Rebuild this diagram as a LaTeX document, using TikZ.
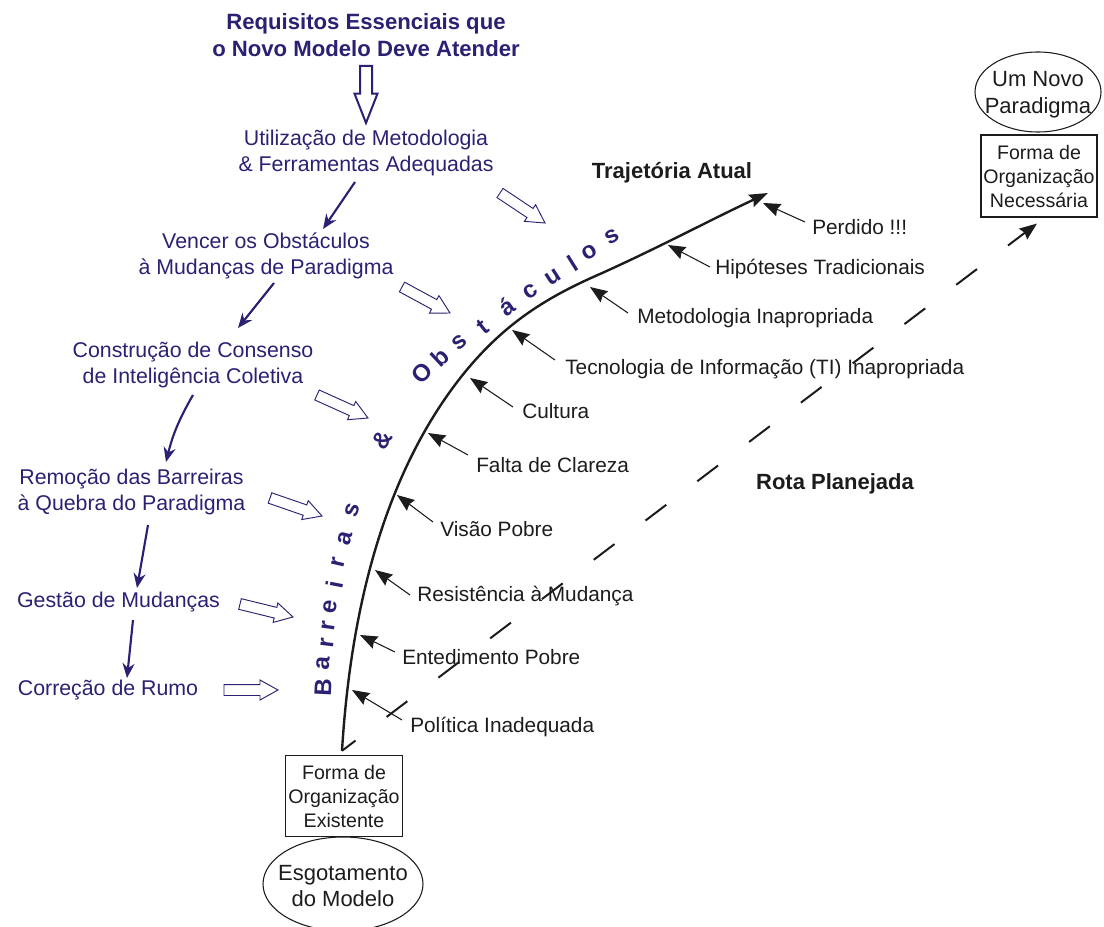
\documentclass[tikz,border=0pt]{standalone}
\usepackage{fontspec}
\setmainfont{Liberation Sans}
\usetikzlibrary{arrows.meta,calc,shapes.geometric}
\definecolor{navy}{RGB}{43,33,115}
\definecolor{ink}{RGB}{28,28,28}

% Outlined block arrow: [style]{tail}{tip}{shaft half width}{head half width}{head length}
\newcommand{\hollowarrow}[6][]{%
  \coordinate (ha-neck) at ($(#3)!#6!(#2)$);
  \draw[hollow,#1] ($(#2)!#4!90:(#3)$) -- ($(ha-neck)!#4!-90:(#2)$)
    -- ($(ha-neck)!#5!-90:(#2)$) -- (#3) -- ($(ha-neck)!#5!90:(#2)$)
    -- ($(ha-neck)!#4!90:(#2)$) -- ($(#2)!#4!-90:(#3)$) -- cycle;}

\begin{document}
\begin{tikzpicture}[x=0.75pt, y=-0.75pt,
  steptxt/.style={font=\fontsize{16}{19.5}\selectfont, text=navy, align=center, inner sep=0pt},
  headtxt/.style={font=\fontsize{16.6}{20.3}\selectfont\bfseries, text=navy, align=center, inner sep=0pt},
  pathtxt/.style={font=\fontsize{16.5}{20}\selectfont\bfseries, text=ink, inner sep=0pt},
  obslbl/.style={font=\fontsize{15.6}{18}\selectfont, text=ink, anchor=west, inner sep=0pt},
  wordletter/.style={font=\fontsize{18}{18}\selectfont\bfseries, text=navy, inner sep=0pt},
  orgbox/.style={draw=ink, line width=0.8pt, inner sep=0pt, align=center,
    font=\fontsize{14.7}{18}\selectfont, text=ink, minimum width=88pt, minimum height=61pt},
  orgoval/.style={draw=ink, line width=0.8pt, ellipse, inner sep=0pt},
  ovaltxt/.style={font=\fontsize{16.5}{20}\selectfont, text=ink, align=center, inner sep=0pt},
  flow/.style={draw=navy, line width=1.6pt, -{Stealth[length=11pt,width=9pt]}},
  hollow/.style={draw=navy, line width=0.7pt, fill=white, line join=miter},
  obsarrow/.style={draw=ink, line width=0.8pt, -{Stealth[length=13pt,width=10pt,inset=1.5pt]}},
  traj/.style={draw=ink, line width=1.8pt, -{Stealth[length=14pt,width=10pt,inset=2pt]}},
  plan/.style={draw=ink, line width=1.5pt, dash pattern=on 19.5pt off 29.25pt,
    dash phase=6.75pt, -{Stealth[length=13pt,width=10pt,inset=1.5pt]}}]

\useasboundingbox (0,0) rectangle (1104,927);
\clip (0,0) rectangle (1104,927);

% ---- left column: requirements chain ----
\node[headtxt] (req) at (366,35) {Requisitos Essenciais que\\o Novo Modelo Deve Atender};
\node[steptxt] (util) at (366,152.5) {Utilização de Metodologia\\\& Ferramentas Adequadas};
\node[steptxt] (venc) at (266,255.5) {Vencer os Obstáculos\\à Mudanças de Paradigma};
\node[steptxt] (cons) at (193,365) {Construção de Consenso\\de Inteligência Coletiva};
\node[steptxt] (remo) at (131.5,491.5) {Remoção das Barreiras\\à Quebra do Paradigma};
\node[steptxt] (gest) at (118.5,602) {Gestão de Mudanças};
\node[steptxt] (corr) at (108,690) {Correção de Rumo};

\coordinate (h0a) at ([shift={(0,31)}]req.center);
\coordinate (h0b) at ([shift={(0,-29.5)}]util.center);
\hollowarrow[line width=1.5pt]{h0a}{h0b}{4.5pt}{8.6pt}{22pt}

\draw[flow] ([shift={(-11,29.5)}]util.center) -- ([shift={(57,-26.5)}]venc.center);
\draw[flow] ([shift={(8,27.5)}]venc.center) -- ([shift={(45,-37)}]cons.center);
\draw[flow] ([shift={(0,30)}]cons.center) to[bend right=8] ([shift={(34.5,-29.5)}]remo.center);
\draw[flow] ([shift={(16.5,33.5)}]remo.center) -- ([shift={(18.5,-14)}]gest.center);
\draw[flow] ([shift={(14.5,18)}]gest.center) -- ([shift={(19,-12)}]corr.center);

% ---- outlined arrows pointing at the barrier curve ----
\coordinate (h1a) at (500,193); \coordinate (h1b) at (545,223);
\coordinate (h2a) at (402,287); \coordinate (h2b) at (450,313);
\coordinate (h3a) at (317,395); \coordinate (h3b) at (368,418);
\coordinate (h4a) at (270,498); \coordinate (h4b) at (322,516);
\coordinate (h5a) at (240,604); \coordinate (h5b) at (293,617);
\coordinate (h6a) at (224,690); \coordinate (h6b) at (278,690);
\foreach \h in {1,...,6}{\hollowarrow{h\h a}{h\h b}{4.1pt}{7.5pt}{13.5pt}}

% ---- organisation forms ----
\node[orgbox] (exist) at (344,796) {Forma de\\Organização\\Existente};
\node[orgoval, minimum width=120pt, minimum height=70.5pt] (worn) at (343,884) {};
\node[ovaltxt] (worntxt) at (343,886) {Esgotamento\\do Modelo};
\node[orgbox, minimum width=87pt, minimum height=61.5pt] (needed) at (1039,176) {Forma de\\Organização\\Necessária};
\node[orgoval, minimum width=94.5pt, minimum height=60pt] (newp) at (1038,92) {};
\node[ovaltxt] (newptxt) at (1038,95) {Um Novo\\Paradigma};

% ---- current trajectory and planned route ----
\coordinate (origin) at ([shift={(-2,-4)}]exist.north);
\draw[traj] (origin) .. controls (350,620) and (380,480) .. (461,377)
  .. controls (500,328) and (540,300) .. (600,274)
  .. controls (660,247) and (710,220) .. (768,193);
\draw[plan] (origin) -- ([shift={(-2,6)}]needed.south);

\node[pathtxt] (traj) at (672,173) {Trajetória Atual};
\node[pathtxt] (rota) at (835,484) {Rota Planejada};

% ---- barrier word along the curve ----
\foreach \lx/\ly/\la/\lc [count=\k] in {323/687/87/B, 323/663/85/a, 327/643/83/r, 328/626/82/r,
  330/607/81/e, 335/585/79/i, 338/562/77/r, 345/538/75/a, 352/510/73/s, 382/440/58/\&,
  422/373/46/O, 440/357/43/b, 460/342/40/s, 483/327/38/t, 507/307/36/á, 530/292/34/c,
  553/277/33/u, 573/263/32/l, 590/252/31/o, 612/237/30/s}
  \node[wordletter, rotate=\la] (ltr\k) at (\lx,\ly) {\lc};

% ---- obstacles pushing on the curve ----
\node[obslbl] (o1) at (812,227) {Perdido !!!};
\node[obslbl] (o2) at (715,269) {Hipóteses Tradicionais};
\node[obslbl] (o3) at (637,318) {Metodologia Inapropriada};
\node[obslbl] (o4) at (565,369) {Tecnologia de Informação (TI) Inapropriada};
\node[obslbl] (o5) at (522,411) {Cultura};
\node[obslbl] (o6) at (476,465) {Falta de Clareza};
\node[obslbl] (o7) at (440,529) {Visão Pobre};
\node[obslbl] (o8) at (417,596) {Resistência à Mudança};
\node[obslbl] (o9) at (402,657) {Entedimento Pobre};
\node[obslbl] (o10) at (410,727) {Política Inadequada};

\coordinate (t1) at (763,203);
\coordinate (t2) at (668,245);
\coordinate (t3) at (590,287);
\coordinate (t4) at (512,330);
\coordinate (t5) at (470,378);
\coordinate (t6) at (428,433);
\coordinate (t7) at (397,495);
\coordinate (t8) at (375,570);
\coordinate (t9) at (360,635);
\coordinate (t10) at (352,690);

\foreach \i/\dx/\dy in {1/-7/-5, 2/-5/-2, 3/-9/-5, 4/-10/-9, 5/-9/-4, 6/-8/-10,
  7/-7/-7, 8/-7/-1, 9/-7/-5, 10/-8/-7}
  \draw[obsarrow] ([shift={(\dx,\dy)}]o\i.west) -- (t\i);
\end{tikzpicture}
\end{document}
